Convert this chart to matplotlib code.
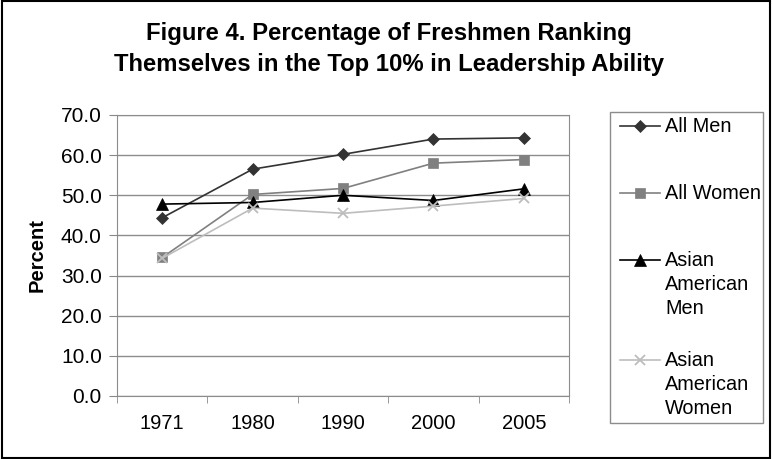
import matplotlib.pyplot as plt
from matplotlib.lines import Line2D
from matplotlib.patches import Rectangle
import numpy as np

years = ['1971', '1980', '1990', '2000', '2005']
allMen = [44.4, 56.5, 60.2, 64.0, 64.3]
allWomen = [34.5, 50.2, 51.7, 58.0, 58.9]
asianMen = [47.8, 48.2, 50.0, 48.7, 51.6]
asianWomen = [34.3, 46.8, 45.5, 47.3, 49.2]

plt.rcParams['font.family'] = ['Liberation Sans', 'DejaVu Sans']

series = [
    (allMen, 'All Men', '#333333', 'D', 6),
    (allWomen, 'All Women', '#808080', 's', 6.5),
    (asianMen, 'Asian\nAmerican\nMen', '#000000', '^', 8),
    (asianWomen, 'Asian\nAmerican\nWomen', '#bdbdbd', 'x', 7),
]

fig = plt.figure(figsize=(7.72, 4.59), dpi=100)
ax = fig.add_axes([0.1516, 0.1373, 0.5855, 0.6122])

x = np.arange(len(years))
for vals, name, col, mk, ms in series:
    ax.plot(x, vals, color=col, marker=mk, markersize=ms, linewidth=1.2,
            markeredgewidth=1.3 if mk == 'x' else 0.5, markeredgecolor=col, zorder=3)

ax.set_xlim(-0.5, len(years) - 0.5)
ax.set_ylim(0, 70)
ax.set_yticks(np.arange(0, 71, 10))
ax.set_yticklabels(['%.1f' % v for v in np.arange(0, 71, 10)], fontsize=15)
ax.set_xticks(x)
ax.set_xticklabels(years, fontsize=14.5)
ax.set_xticks(np.arange(-0.5, len(years), 1), minor=True)
ax.tick_params(axis='x', which='major', length=0, pad=13)
ax.tick_params(axis='x', which='minor', length=5, color='#888888')
ax.tick_params(axis='y', length=6, color='#888888', pad=5)
ax.yaxis.grid(True, color='#8c8c8c', linewidth=1)
ax.set_axisbelow(True)
for s in ax.spines.values():
    s.set_color('#8c8c8c')
ax.set_ylabel('Percent', fontsize=14.5, fontweight='bold', labelpad=10)

fig.text(0.504, 0.893, 'Figure 4. Percentage of Freshmen Ranking\nThemselves in the Top 10% in Leadership Ability',
         ha='center', va='center', fontsize=17.2, fontweight='bold', linespacing=1.42)

# legend drawn by hand so that the marker sits on the first label line
W, H = 772, 459
fig.add_artist(Rectangle((610 / W, 1 - 423 / H), 153 / W, 311 / H, transform=fig.transFigure,
                         fill=False, edgecolor='#8c8c8c', linewidth=1))
rows = [126, 193, 260, 360]
for (vals, name, col, mk, ms), yy in zip(series, rows):
    yf = 1 - yy / H
    fig.add_artist(Line2D([620 / W, 660 / W], [yf, yf], color=col, linewidth=1.2,
                          transform=fig.transFigure))
    fig.add_artist(Line2D([640 / W], [yf], color=col, marker=mk, markersize=ms,
                          markeredgewidth=1.3 if mk == 'x' else 0.5, markeredgecolor=col,
                          transform=fig.transFigure))
    fig.text(665 / W, yf + 9 / H, name, ha='left', va='top', fontsize=14.3, linespacing=1.35)

fig.add_artist(Rectangle((0.002, 0.002), 0.996, 0.996, transform=fig.transFigure,
                         fill=False, edgecolor='black', linewidth=1.5))

fig.savefig('out.png', dpi=100)
